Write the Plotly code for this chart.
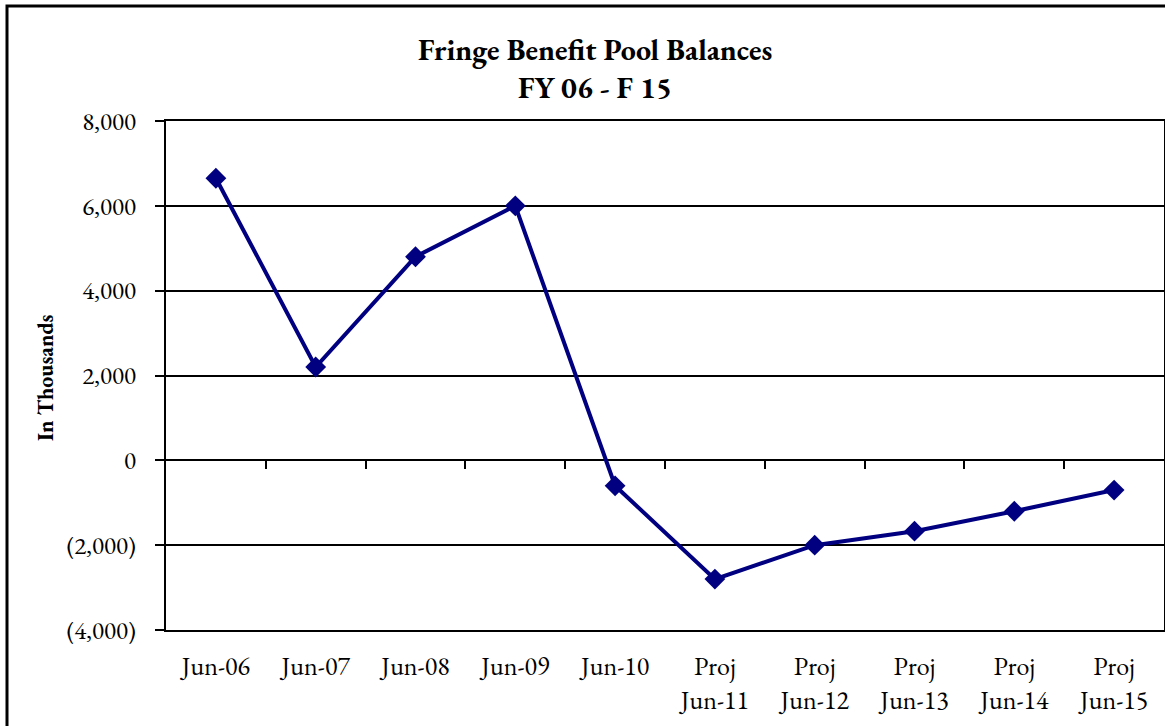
import plotly.graph_objects as go

categories = ["Jun-06", "Jun-07", "Jun-08", "Jun-09", "Jun-10",
              "Proj<br>Jun-11", "Proj<br>Jun-12", "Proj<br>Jun-13", "Proj<br>Jun-14", "Proj<br>Jun-15"]
balances = [6650, 2200, 4800, 6000, -600, -2800, -2000, -1670, -1200, -700]
y_ticks = [-4000, -2000, 0, 2000, 4000, 6000, 8000]
y_labels = ["(4,000)", "(2,000)", "0", "2,000", "4,000", "6,000", "8,000"]

FONT = "Garamond, 'EB Garamond', 'Liberation Serif', 'DejaVu Serif', serif"
xs = list(range(len(categories)))

W, H = 1165, 726
L, R, T, B = 166, 1164, 121, 630
PW, PH = R - L, B - T

fig = go.Figure()
fig.add_trace(go.Scatter(
    x=xs, y=balances, mode="lines+markers",
    line=dict(color="#000080", width=4),
    marker=dict(symbol="diamond", size=16, color="#000080"),
    showlegend=False, hoverinfo="skip",
))
# invisible trace for the tick axis at zero
fig.add_trace(go.Scatter(x=[0], y=[0], xaxis="x2", yaxis="y", mode="markers",
                         marker=dict(opacity=0), showlegend=False, hoverinfo="skip"))

fig.update_layout(
    width=W, height=H, autosize=False,
    margin=dict(l=L, r=W - R, t=T, b=H - B, autoexpand=False),
    paper_bgcolor="white", plot_bgcolor="white",
    font=dict(family=FONT, color="black", size=24),
    xaxis=dict(
        range=[-0.5, len(categories) - 0.5],
        tickvals=xs, ticktext=categories,
        showgrid=False, zeroline=False, automargin=False,
        showline=True, linecolor="black", linewidth=2, mirror=True,
        ticks="", tickfont=dict(size=26), ticklabelstandoff=12,
    ),
    xaxis2=dict(
        overlaying="x", anchor="free", position=1/3,
        range=[-0.5, len(categories) - 0.5],
        tickvals=[i + 0.5 for i in xs[:-1]], ticktext=[""] * (len(xs) - 1),
        ticks="outside", ticklen=8, tickwidth=2, tickcolor="black",
        showline=False, showgrid=False, zeroline=False, showticklabels=False,
        automargin=False,
    ),
    yaxis=dict(
        range=[-4000, 8000], automargin=False,
        tickvals=y_ticks, ticktext=y_labels,
        showgrid=True, gridcolor="black", gridwidth=2,
        zeroline=True, zerolinecolor="black", zerolinewidth=2,
        showline=True, linecolor="black", linewidth=2, mirror=True,
        ticks="outside", ticklen=9, tickwidth=2, tickcolor="black",
        tickfont=dict(size=25), ticklabelstandoff=14,
    ),
    annotations=[
        dict(text="<b>Fringe Benefit Pool Balances</b>", xref="paper", yref="paper",
             x=(595 - L) / PW, y=(B - 50) / PH, xanchor="center", yanchor="middle",
             showarrow=False, font=dict(size=30)),
        dict(text="<b>FY 06 - F 15</b>", xref="paper", yref="paper",
             x=(595 - L) / PW, y=(B - 88) / PH, xanchor="center", yanchor="middle",
             showarrow=False, font=dict(size=30)),
        dict(text="<b>In Thousands</b>", xref="paper", yref="paper", textangle=-90,
             x=(45 - L) / PW, y=(B - 378) / PH, xanchor="center", yanchor="middle",
             showarrow=False, font=dict(size=22)),
    ],
    shapes=[
        dict(type="rect", xref="paper", yref="paper",
             x0=(7 - L) / PW, x1=(1175 - L) / PW,
             y0=(B - 740) / PH, y1=(B - 6) / PH,
             line=dict(color="black", width=3), layer="below"),
    ],
)

post = (
    "document.documentElement.style.margin='0';"
    "document.documentElement.style.overflow='hidden';"
    "document.body.style.margin='0';"
    "document.body.style.padding='0';"
    "document.body.style.overflow='hidden';"
)

fig.write_html("out.html", config={"responsive": False, "displayModeBar": False},
               post_script=post)
